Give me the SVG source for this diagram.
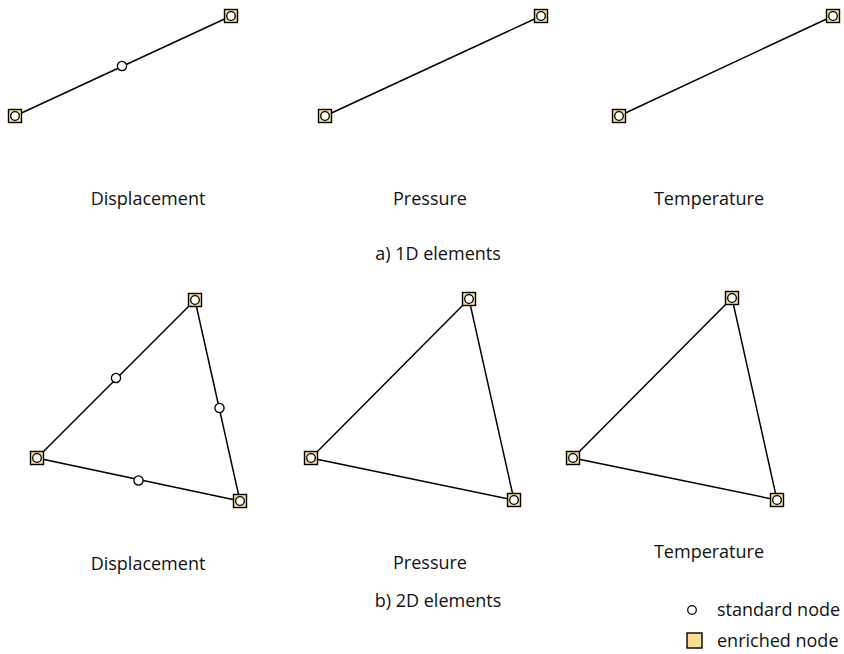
<svg xmlns="http://www.w3.org/2000/svg" width="844" height="654" viewBox="0 0 844 654">
<defs>
<style>
.edge{stroke:#000;stroke-width:1.5;fill:none}
.enr{fill:#f7dc97;stroke:#000;stroke-width:1.4}
.std{fill:#fff;stroke:#000;stroke-width:1.3}
text{font-family:"Open Sans","Noto Sans",sans-serif;font-size:18px;fill:#111}
.c{text-anchor:middle}
</style>
<g id="enode">
<rect class="enr" x="-6.5" y="-6.5" width="13" height="13"/>
<circle class="std" r="4.3"/>
</g>
<circle id="snode" class="std" r="4.6"/>
</defs>
<rect width="844" height="654" fill="#fff"/>
<g id="connectors">
<line class="edge" x1="15" y1="116" x2="231" y2="16"/>
<line class="edge" x1="325" y1="116" x2="541" y2="16"/>
<line class="edge" x1="619" y1="116" x2="833" y2="16"/>
<polygon class="edge" points="195,300 37,458 240,501"/>
<polygon class="edge" points="469,299 311,458 514,500"/>
<polygon class="edge" points="732,298 573,458 777,500"/>
</g>
<g id="d1-a"><use href="#enode" x="15" y="116"/></g>
<g id="d1-b"><use href="#enode" x="231" y="16"/></g>
<g id="d1-m"><use href="#snode" x="122" y="66"/></g>
<g id="p1-a"><use href="#enode" x="325" y="116"/></g>
<g id="p1-b"><use href="#enode" x="541" y="16"/></g>
<g id="t1-a"><use href="#enode" x="619" y="116"/></g>
<g id="t1-b"><use href="#enode" x="833" y="16"/></g>
<g id="d2-top"><use href="#enode" x="195" y="300"/></g>
<g id="d2-left"><use href="#enode" x="37" y="458"/></g>
<g id="d2-br"><use href="#enode" x="240" y="501"/></g>
<g id="d2-m1"><use href="#snode" x="116" y="378"/></g>
<g id="d2-m2"><use href="#snode" x="219.5" y="408"/></g>
<g id="d2-m3"><use href="#snode" x="138.5" y="480.5"/></g>
<g id="p2-top"><use href="#enode" x="469" y="299"/></g>
<g id="p2-left"><use href="#enode" x="311" y="458"/></g>
<g id="p2-br"><use href="#enode" x="514" y="500"/></g>
<g id="t2-top"><use href="#enode" x="732" y="298"/></g>
<g id="t2-left"><use href="#enode" x="573" y="458"/></g>
<g id="t2-br"><use href="#enode" x="777" y="500"/></g>
<g id="labels">
<text class="c" x="148" y="205">Displacement</text>
<text class="c" x="430" y="205">Pressure</text>
<text class="c" x="709" y="205">Temperature</text>
<text class="c" x="438" y="260">a) 1D elements</text>
<text class="c" x="148" y="570">Displacement</text>
<text class="c" x="430" y="569">Pressure</text>
<text class="c" x="709" y="558">Temperature</text>
<text class="c" x="438" y="607">b) 2D elements</text>
</g>
<g id="legend">
<circle class="std" cx="692" cy="610" r="4.3"/>
<text x="717" y="616">standard node</text>
<rect class="enr" x="687" y="633" width="15" height="15"/>
<text x="717" y="647">enriched node</text>
</g>
</svg>
